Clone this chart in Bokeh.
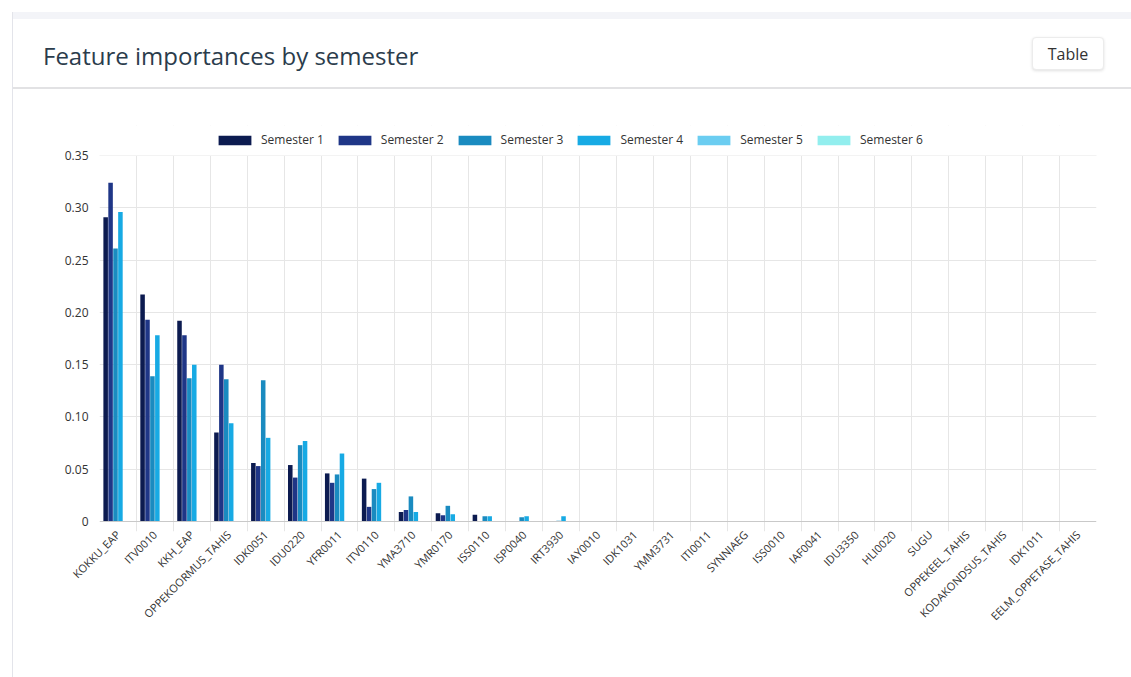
from bokeh.plotting import figure
from bokeh.models import (Range1d, FactorRange, FixedTicker, CustomJSTickFormatter,
                          Legend, LegendItem, Div, BoxAnnotation, Span)
from bokeh.layouts import row, column
from bokeh.transform import dodge
from bokeh.embed import file_html
from bokeh.resources import INLINE
import math

# Feature names, in order of importance
features = ["KOKKU_EAP", "ITV0010", "KKH_EAP", "OPPEKOORMUS_TAHIS", "IDK0051", "IDU0220",
            "YFR0011", "ITV0110", "YMA3710", "YMR0170", "ISS0110", "ISP0040", "IRT3930",
            "IAY0010", "IDK1031", "YMM3731", "ITI0011", "SYNNIAEG", "ISS0010", "IAF0041",
            "IDU3350", "HLI0020", "SUGU", "OPPEKEEL_TAHIS", "KODAKONDSUS_TAHIS", "IDK1011",
            "EELM_OPPETASE_TAHIS"]

semester_1 = [0.291, 0.217, 0.192, 0.085, 0.056, 0.054, 0.046, 0.041, 0.009, 0.008, 0.0064,
              0, 0, 0, 0, 0, 0, 0, 0, 0, 0, 0, 0, 0, 0, 0, 0]
semester_2 = [0.324, 0.193, 0.178, 0.150, 0.053, 0.042, 0.037, 0.014, 0.011, 0.006, 0,
              0, 0, 0, 0, 0, 0, 0, 0, 0, 0, 0, 0, 0, 0, 0, 0]
semester_3 = [0.261, 0.139, 0.137, 0.136, 0.135, 0.073, 0.045, 0.031, 0.024, 0.015, 0.005,
              0.004, 0.0008, 0, 0, 0, 0, 0, 0, 0, 0, 0, 0, 0, 0, 0, 0]
semester_4 = [0.296, 0.178, 0.150, 0.094, 0.080, 0.077, 0.065, 0.037, 0.009, 0.007, 0.005,
              0.005, 0.005, 0, 0, 0, 0, 0, 0, 0, 0, 0, 0, 0, 0, 0, 0]
semester_5 = [0] * len(features)
semester_6 = [0] * len(features)

series_names = ["Semester 1", "Semester 2", "Semester 3", "Semester 4", "Semester 5", "Semester 6"]
series_values = [semester_1, semester_2, semester_3, semester_4, semester_5, semester_6]
series_colors = ["#0c1b50", "#1f3687", "#1a8bc0", "#17aae4", "#6bcdf1", "#92eeee"]

y_ticks = [0, 0.05, 0.10, 0.15, 0.20, 0.25, 0.30, 0.35]
y_max = 0.35

FONT = "Open Sans"
TEXT = "#333333"
GRID = "#e6e6e6"

# Plot geometry: the value axis spans 366 px. The frame reaches 30 px higher so
# the legend can sit inside it, and 10 px lower so the category grid lines
# continue below the baseline as tick marks.
AXIS_PX = 366
LEGEND_PX = 30
TICK_PX = 10
y_end = y_max * (AXIS_PX + LEGEND_PX) / AXIS_PX
y_start = -y_max * TICK_PX / AXIS_PX

p = figure(x_range=FactorRange(*features), y_range=Range1d(y_start, y_end),
           width=1118, height=587, output_backend="svg", toolbar_location=None,
           title=None, min_border_left=86, min_border_right=35,
           min_border_top=65 - LEGEND_PX, min_border_bottom=156 - TICK_PX, margin=0)
p.outline_line_color = None
p.background_fill_color = "white"
p.border_fill_color = "white"

data = {"feature": features}
for name, vals in zip(series_names, series_values):
    data[name] = vals

n = len(series_names)
step = 0.8 / n
items = []
for i, (name, color) in enumerate(zip(series_names, series_colors)):
    offset = -0.4 + step * (i + 0.5)
    r = p.vbar(x=dodge("feature", offset, range=p.x_range), top=name, width=step * 0.92,
               source=data, fill_color=color, line_color=None)
    items.append(LegendItem(label=name, renderers=[r]))

# blank strip above the value range, hiding the grid behind the legend
p.add_layout(BoxAnnotation(bottom=y_max, fill_color="white", fill_alpha=1,
                           line_color=None, level="underlay"))
# baseline of the category axis
p.add_layout(Span(location=0, dimension="width", line_color="#c9c9c9", line_width=1))

legend = Legend(items=items, orientation="horizontal", location=(115, 383),
                glyph_width=41, glyph_height=12, label_standoff=6, spacing=10,
                padding=0, margin=0, border_line_color=None, background_fill_alpha=0,
                label_text_font=FONT, label_text_font_size="12px",
                label_text_color=TEXT)
p.add_layout(legend, "center")

# category boundaries as vertical grid lines
p.xgrid.ticker = FixedTicker(ticks=list(range(len(features))))
p.xgrid.grid_line_color = GRID
p.ygrid.ticker = FixedTicker(ticks=y_ticks[1:])
p.ygrid.grid_line_color = GRID

p.yaxis.ticker = FixedTicker(ticks=y_ticks)
p.yaxis.formatter = CustomJSTickFormatter(code="return tick == 0 ? '0' : tick.toFixed(2);")
p.yaxis.axis_line_color = None
p.yaxis.major_tick_line_color = None
p.yaxis.minor_tick_line_color = None
p.yaxis.major_tick_out = 0
p.yaxis.minor_tick_out = 0
p.yaxis.major_label_standoff = 11
p.yaxis.major_label_text_font = FONT
p.yaxis.major_label_text_font_size = "12px"
p.yaxis.major_label_text_color = TEXT

p.xaxis.axis_line_color = None
p.xaxis.major_tick_line_color = None
p.xaxis.minor_tick_line_color = None
p.xaxis.major_tick_out = 0
p.xaxis.minor_tick_out = 0
p.xaxis.major_label_orientation = math.pi / 4
p.xaxis.major_label_standoff = 1
p.xaxis.major_label_text_font = FONT
p.xaxis.major_label_text_font_size = "11px"
p.xaxis.major_label_text_color = TEXT

header_html = """
<div style="position:relative;width:1118px;height:90px;background:#ffffff;overflow:hidden;">
  <div style="position:absolute;left:0;top:12px;width:1118px;height:7px;background:#f3f4f8;"></div>
  <div style="position:absolute;left:30px;top:44px;font-family:'Open Sans';font-size:24px;line-height:24px;color:#2b3c4c;white-space:nowrap;">Feature importances by semester</div>
  <div style="position:absolute;left:1019px;top:37px;width:72px;height:33px;border:1px solid #ececec;border-radius:4px;box-shadow:0 1px 3px rgba(0,0,0,0.12);background:#fff;font-family:'Open Sans';font-size:16px;line-height:33px;text-align:center;color:#333333;">Table</div>
  <div style="position:absolute;left:0;top:87px;width:1118px;height:2px;background:#e2e2e4;"></div>
</div>
"""
header = Div(text=header_html, width=1118, height=90, margin=0)

side_html = """
<div style="position:relative;width:13px;height:677px;background:#ffffff;">
  <div style="position:absolute;left:12px;top:12px;width:1px;height:665px;background:#e3e4ea;"></div>
</div>
"""
side = Div(text=side_html, width=13, height=677, margin=0)

layout = row(side, column(header, p, spacing=0, margin=0), spacing=0, margin=0)

with open("out.html", "w") as f:
    f.write(file_html(layout, INLINE, title="Feature importances by semester"))
